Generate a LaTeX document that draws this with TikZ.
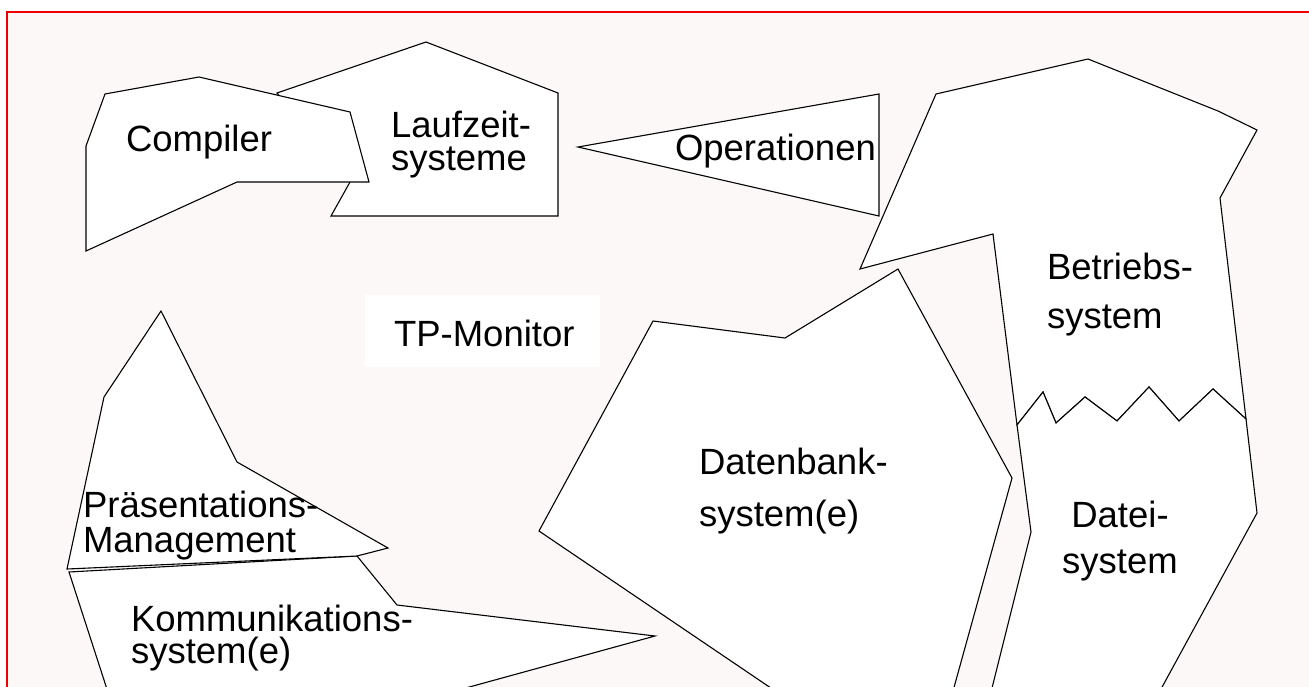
\documentclass[tikz,border=0pt]{standalone}
\usepackage{fontspec}
\setmainfont{Liberation Sans}
\definecolor{bgpink}{RGB}{253,248,248}
\definecolor{framered}{RGB}{240,0,0}
\tikzset{
  shapebox/.style={draw=black, fill=white, line width=1.1pt, line join=miter},
  lbl/.style={inner sep=0pt, outer sep=0pt, anchor=base west, font=\fontsize{36.5}{40}\selectfont},
  lblc/.style={inner sep=0pt, outer sep=0pt, anchor=base, font=\fontsize{36.5}{40}\selectfont}
}
\begin{document}
\begin{tikzpicture}[x=1pt, y=-1pt]
\useasboundingbox (0,0) rectangle (1309,686);
\fill[white] (0,0) rectangle (1309,686);
\begin{scope}
\clip (0,0) rectangle (1309,686);
\fill[bgpink] (7,12) rectangle (1320,700);
\draw[framered, line width=2pt] (1320,12) -- (7,12) -- (7,700);
% Laufzeitsysteme (under Compiler)
\draw[shapebox] (277,93) -- (426,42) -- (558,93) -- (558,216) -- (331,216) -- (350,182) -- cycle;
% Compiler
\draw[shapebox] (105,94) -- (199,77) -- (350,112) -- (369,182) -- (237,182) -- (86,251) -- (86,146) -- cycle;
% Operationen
\draw[shapebox] (578,147) -- (879,94) -- (879,216) -- cycle;
% Betriebssystem
\draw[shapebox] (936,94) -- (1088,59) -- (1218,111) -- (1257,130) -- (1220,198) -- (1246,419)
  -- (1213,389) -- (1179,421) -- (1149,387) -- (1117,421) -- (1085,397) -- (1056,423) -- (1043,392) -- (1017,425)
  -- (993,234) -- (860,269) -- cycle;
% Dateisystem
\draw[shapebox] (1017,425) -- (1043,392) -- (1056,423) -- (1085,397) -- (1117,421) -- (1149,387) -- (1179,421) -- (1213,389) -- (1246,419)
  -- (1257,513) -- (1155,700) -- (989,700) -- (1031,532) -- cycle;
% Datenbanksystem
\draw[shapebox] (653,321) -- (785,338) -- (898,269) -- (1012,478) -- (950.5,700) -- (788.6,700) -- (539,531) -- cycle;
% Kommunikationssystem
\draw[shapebox] (69,572) -- (357,556) -- (397,605) -- (655,636) -- (422,700) -- (110.5,700) -- cycle;
% Praesentationsmanagement
\draw[shapebox] (161,311) -- (237,462) -- (388,548) -- (357,556) -- (67,569) -- (104,397) -- cycle;
% TP-Monitor box
\fill[white] (365,295) rectangle (600,367);
\end{scope}
\node[lbl] (comp) at (126,151) {Compiler};
\node[lbl] (lauf1) at (391,137) {Laufzeit-};
\node[lbl] (lauf2) at (391,170) {systeme};
\node[lbl] (oper) at (675,160) {Operationen};
\node[lbl] (tpm) at (394,346) {TP-Monitor};
\node[lbl] (betr1) at (1047,279) {Betriebs-};
\node[lbl] (betr2) at (1047,328) {system};
\node[lbl] (dbs1) at (699,474) {Datenbank-};
\node[lbl] (dbs2) at (699,526) {system(e)};
\node[lblc] (dat1) at (1120,527) {Datei-};
\node[lblc] (dat2) at (1120,573) {system};
\node[lbl] (pra1) at (83,517) {Präsentations-};
\node[lbl] (pra2) at (83,552) {Management};
\node[lbl] (kom1) at (131,631) {Kommunikations-};
\node[lbl] (kom2) at (131,663) {system(e)};
\end{tikzpicture}
\end{document}
